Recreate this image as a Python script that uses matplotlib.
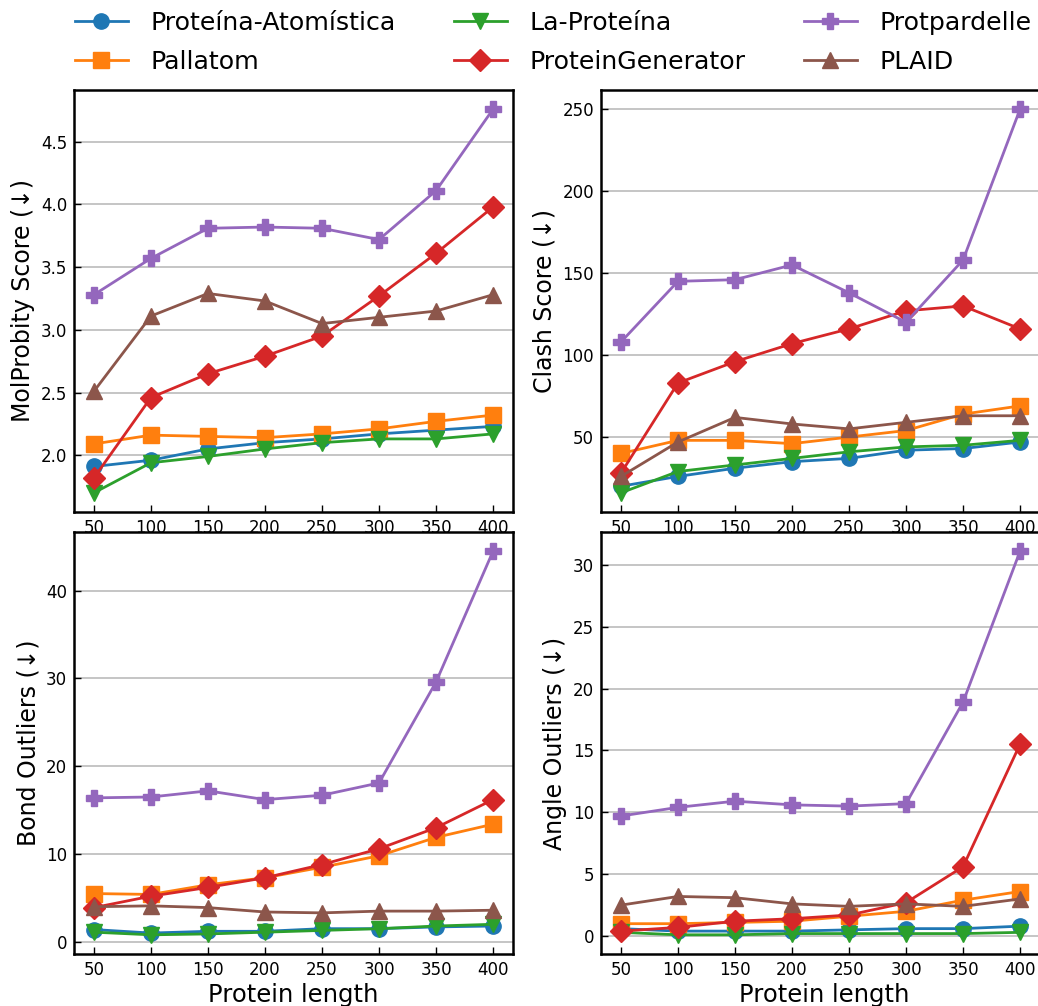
import matplotlib
matplotlib.use("Agg")
import matplotlib.pyplot as plt

lengths = [50, 100, 150, 200, 250, 300, 350, 400]
methods = ["Proteína-Atomística", "Pallatom", "La-Proteína",
           "ProteinGenerator", "Protpardelle", "PLAID"]
markers = ["o", "s", "v", "D", "P", "^"]

# MolProbity score
molprobity = {
    "Proteína-Atomística": [1.91, 1.96, 2.05, 2.10, 2.13, 2.17, 2.20, 2.23],
    "Pallatom": [2.09, 2.16, 2.15, 2.14, 2.17, 2.21, 2.27, 2.32],
    "La-Proteína": [1.70, 1.94, 1.99, 2.05, 2.10, 2.13, 2.13, 2.17],
    "ProteinGenerator": [1.82, 2.46, 2.65, 2.79, 2.95, 3.27, 3.61, 3.98],
    "Protpardelle": [3.28, 3.57, 3.81, 3.82, 3.81, 3.72, 4.11, 4.76],
    "PLAID": [2.51, 3.11, 3.29, 3.23, 3.05, 3.10, 3.15, 3.28],
}
# clash score
clash = {
    "Proteína-Atomística": [20, 26, 31, 35, 37, 42, 43, 47],
    "Pallatom": [40, 48, 48, 46, 50, 54, 64, 69],
    "La-Proteína": [16, 29, 33, 37, 41, 44, 45, 48],
    "ProteinGenerator": [28, 83, 96, 107, 116, 127, 130, 116],
    "Protpardelle": [108, 145, 146, 155, 138, 120, 158, 250],
    "PLAID": [26, 47, 62, 58, 55, 59, 63, 63],
}
# bond outliers
bond = {
    "Proteína-Atomística": [1.4, 1.0, 1.2, 1.2, 1.5, 1.5, 1.7, 1.8],
    "Pallatom": [5.5, 5.4, 6.5, 7.3, 8.5, 9.8, 11.9, 13.4],
    "La-Proteína": [1.1, 0.8, 0.9, 1.1, 1.3, 1.5, 1.8, 2.0],
    "ProteinGenerator": [3.9, 5.2, 6.2, 7.3, 8.8, 10.6, 13.0, 16.2],
    "Protpardelle": [16.4, 16.5, 17.2, 16.2, 16.7, 18.1, 29.6, 44.5],
    "PLAID": [4.0, 4.1, 3.9, 3.4, 3.3, 3.5, 3.5, 3.6],
}
# angle outliers
angle = {
    "Proteína-Atomística": [0.6, 0.4, 0.4, 0.4, 0.5, 0.6, 0.6, 0.8],
    "Pallatom": [1.0, 1.0, 1.1, 1.2, 1.6, 2.0, 2.9, 3.6],
    "La-Proteína": [0.3, 0.1, 0.1, 0.2, 0.2, 0.2, 0.2, 0.3],
    "ProteinGenerator": [0.4, 0.7, 1.2, 1.4, 1.7, 2.7, 5.6, 15.5],
    "Protpardelle": [9.7, 10.4, 10.9, 10.6, 10.5, 10.7, 18.9, 31.1],
    "PLAID": [2.5, 3.2, 3.1, 2.6, 2.4, 2.6, 2.4, 3.0],
}

panels = [
    (molprobity, "MolProbity Score (↓)"),
    (clash, "Clash Score (↓)"),
    (bond, "Bond Outliers (↓)"),
    (angle, "Angle Outliers (↓)"),
]

W, H = 1038, 1006
fig = plt.figure(figsize=(W / 100, H / 100), dpi=100)
# axes boxes in pixels: left, bottom (from top), width
# right column runs past the figure edge (the original was cropped there)
boxes = [(74, 512, 439), (601, 512, 446), (74, 954, 439), (601, 954, 446)]
ah = 422
base_w = 439
xlo, xhi = 32.5, 417.5

axes = []
for (data, ylabel), (x0, yb, aw) in zip(panels, boxes):
    ax = fig.add_axes([x0 / W, (H - yb) / H, aw / W, ah / H])
    for i, m in enumerate(methods):
        ax.plot(lengths, data[m], marker=markers[i], color="C%d" % i,
                markersize=11, linewidth=2, label=m)
    # keep same x scale as left column
    ax.set_xlim(xlo, xlo + (xhi - xlo) * aw / base_w)
    ax.grid(axis="y", color="#c0c0c0", linewidth=1.3)
    ax.set_axisbelow(True)
    ax.set_xticks(lengths)
    ax.tick_params(direction="in", labelsize=12, length=5, width=1, pad=5)
    for s in ax.spines.values():
        s.set_linewidth(1.8)
    ax.set_ylabel(ylabel, fontsize=17)
    axes.append(ax)

axes[2].set_xlabel("Protein length", fontsize=17.5, labelpad=3)
axes[3].set_xlabel("Protein length", fontsize=17.5, labelpad=3)

handles, labels = axes[0].get_legend_handles_labels()
fig.legend(handles, labels, loc="upper center", ncol=3, frameon=False,
           fontsize=18.2, bbox_to_anchor=(0.533, 1.012), handlelength=2.1,
           columnspacing=2.3, handletextpad=0.9, labelspacing=0.6)

fig.savefig("out.png", dpi=100)
